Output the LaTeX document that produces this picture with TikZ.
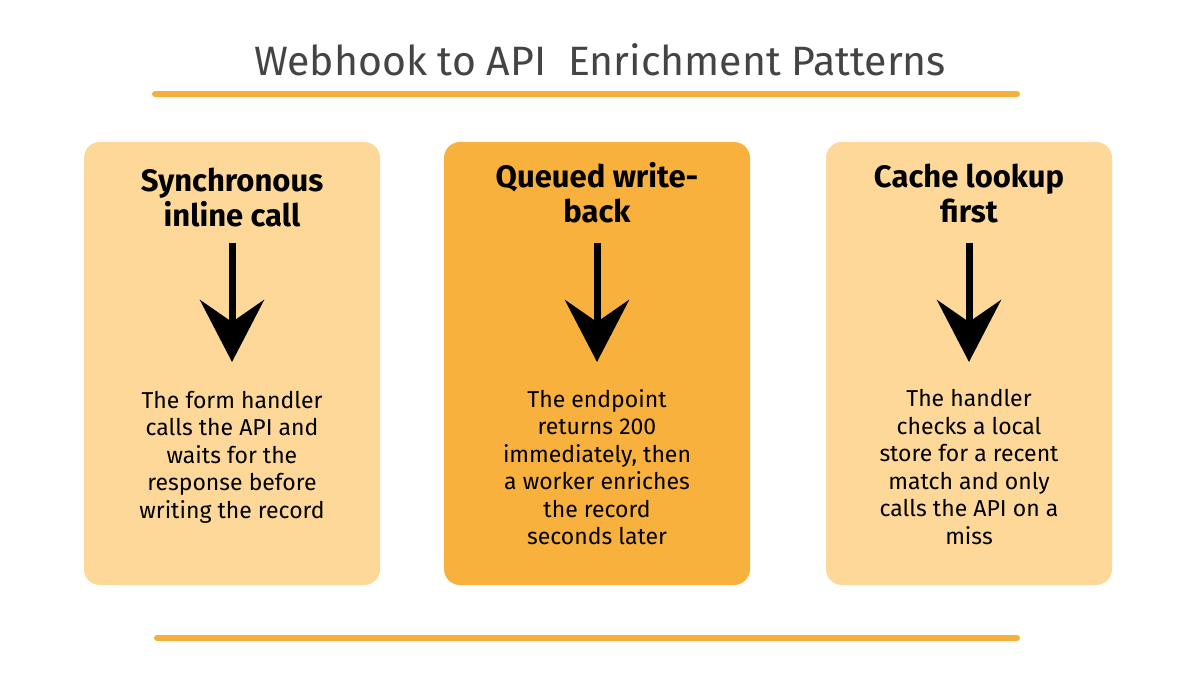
\documentclass[tikz,border=0pt]{standalone}
\usepackage{fontspec}
\setmainfont{Fira Sans}
\usetikzlibrary{arrows.meta}
\definecolor{lightamber}{HTML}{FDD898}
\definecolor{deepamber}{HTML}{F8B13C}
\definecolor{rule}{HTML}{F5AF3C}
\definecolor{titlegray}{HTML}{444444}
\begin{document}
\begin{tikzpicture}[
x=1pt, y=-1pt,
card/.style={fill=#1, draw=none, rounded corners=16pt},
cardhead/.style={font=\fontsize{31}{35}\selectfont\bfseries, align=center, anchor=center},
cardbody/.style={font=\fontsize{23}{27.5}\selectfont, align=center, anchor=center},
downarrow/.style={line width=7pt, -{Stealth[width=64pt, length=62pt, inset=22pt]}},
]
\useasboundingbox (0,0) rectangle (1200,675);
\fill[white] (0,0) rectangle (1200,675);

% title and rules
\node[font=\fontsize{41}{46}\selectfont, text=titlegray] (title) at (600,60) {Webhook to API\ \ Enrichment Patterns};
\coordinate (r1a) at (155,94); \coordinate (r1b) at (1017,94);
\coordinate (r2a) at (157,638); \coordinate (r2b) at (1017,638);
\draw[rule, line width=6pt, line cap=round] (r1a) -- (r1b);
\draw[rule, line width=6pt, line cap=round] (r2a) -- (r2b);

% cards
\fill[card=lightamber] (84,142) rectangle (380,585);
\fill[card=deepamber] (444,142) rectangle (750,585);
\fill[card=lightamber] (826,142) rectangle (1112,585);

\node[cardhead] (h1) at (232,198) {Synchronous\\inline call};
\node[cardhead] (h2) at (597,193) {Queued write-\\back};
\node[cardhead] (h3) at (969,193) {Cache lookup\\first};

\coordinate (a1) at (232,243); \coordinate (b1) at (232,362);
\coordinate (a2) at (597,243); \coordinate (b2) at (597,362);
\coordinate (a3) at (969,243); \coordinate (b3) at (969,362);
\draw[downarrow] (a1) -- (b1);
\draw[downarrow] (a2) -- (b2);
\draw[downarrow] (a3) -- (b3);

\node[cardbody] (t1) at (232,457) {The form handler\\calls the API and\\waits for the\\response before\\writing the record};
\node[cardbody] (t2) at (597,467) {The endpoint\\returns 200\\immediately, then\\a worker enriches\\the record\\seconds later};
\node[cardbody] (t3) at (969,467) {The handler\\checks a local\\store for a recent\\match and only\\calls the API on a\\miss};
\end{tikzpicture}
\end{document}
